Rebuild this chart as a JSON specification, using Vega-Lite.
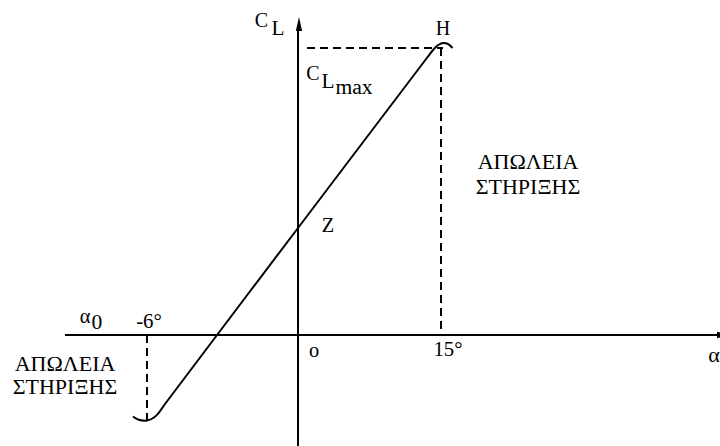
{
  "$schema": "https://vega.github.io/schema/vega-lite/v6.json",
  "autosize": "none",
  "padding": 0,
  "width": 720,
  "height": 446,
  "background": "white",
  "config": {"view": {"stroke": null}},
  "datasets": {
    "curve": [
      {"order": 1, "a": -16.5, "c": -8.15},
      {"order": 2, "a": -16.0, "c": -8.45},
      {"order": 3, "a": -15.1, "c": -8.55},
      {"order": 4, "a": -14.4, "c": -8.25},
      {"order": 5, "a": -13.9, "c": -7.75},
      {"order": 6, "a": -13.3, "c": -6.9},
      {"order": 7, "a": 0, "c": 10.7},
      {"order": 8, "a": 13.0, "c": 27.85},
      {"order": 9, "a": 13.5, "c": 28.5},
      {"order": 10, "a": 13.95, "c": 28.95},
      {"order": 11, "a": 14.5, "c": 29.2},
      {"order": 12, "a": 15.0, "c": 29.1},
      {"order": 13, "a": 15.45, "c": 28.7}
    ],
    "axes": [
      {"name": "CL axis", "a": 0, "c": -11.2, "a2": 0, "c2": 30.5},
      {"name": "alpha axis", "a": -23.3, "c": 0, "a2": 42.2, "c2": 0}
    ],
    "dashes": [
      {"name": "CLmax level", "a": 0.9, "c": 28.7, "a2": 14.5, "c2": 28.7},
      {"name": "15 deg", "a": 14.3, "c": 28.7, "a2": 14.3, "c2": 0},
      {"name": "-6 deg", "a": -15.1, "c": 0, "a2": -15.1, "c2": -8.5}
    ],
    "arrowUp": [{"a": 0.1, "c": 31.1}],
    "arrowRight": [{"a": 42.6, "c": 0}],
    "labels": [
      {"text": "C", "tier": "big", "a": -3.65, "c": 31.4},
      {"text": "L", "tier": "sub", "a": -2.0, "c": 30.6},
      {"text": "H", "tier": "big", "a": 14.5, "c": 30.6},
      {"text": "C", "tier": "big", "a": 1.5, "c": 26.15},
      {"text": "L", "tier": "sub", "a": 3.0, "c": 25.35},
      {"text": "max", "tier": "tiny", "a": 5.6, "c": 24.75},
      {"text": "Z", "tier": "large", "a": 3.0, "c": 10.9},
      {"text": "-6°", "tier": "mid", "a": -14.9, "c": 1.3},
      {"text": "α", "tier": "large", "a": -21.3, "c": 1.8},
      {"text": "0", "tier": "tiny", "a": -20.1, "c": 1.2},
      {"text": "o", "tier": "large", "a": 1.6, "c": -1.55},
      {"text": "15°", "tier": "mid", "a": 15.0, "c": -1.5},
      {"text": "ΑΠΩΛΕΙΑ", "tier": "note", "a": -23.3, "c": -2.85},
      {"text": "ΣΤΗΡΙΞΗΣ", "tier": "note", "a": -23.3, "c": -5.15},
      {"text": "ΑΠΩΛΕΙΑ", "tier": "note", "a": 23.0, "c": 17.35},
      {"text": "ΣΤΗΡΙΞΗΣ", "tier": "note", "a": 23.0, "c": 14.85}
    ],
    "edgeLabels": [
      {"text": "α", "a": 41.6, "c": -2.0}
    ]
  },
  "layer": [
    {
      "data": {"name": "axes"},
      "mark": {"type": "rule", "color": "black", "strokeWidth": 2, "clip": true},
      "encoding": {
        "x": {"field": "a", "type": "quantitative", "scale": {"domain": [-29.8, 42.2], "nice": false, "zero": false}, "axis": null},
        "y": {"field": "c", "type": "quantitative", "scale": {"domain": [-11.1, 33.5], "nice": false, "zero": false}, "axis": null},
        "x2": {"field": "a2"},
        "y2": {"field": "c2"}
      }
    },
    {
      "data": {"name": "dashes"},
      "mark": {"type": "rule", "color": "black", "strokeWidth": 2, "strokeDash": [8, 5]},
      "encoding": {
        "x": {"field": "a", "type": "quantitative"},
        "y": {"field": "c", "type": "quantitative"},
        "x2": {"field": "a2"},
        "y2": {"field": "c2"}
      }
    },
    {
      "data": {"name": "curve"},
      "mark": {"type": "line", "color": "black", "strokeWidth": 2, "interpolate": "catmull-rom"},
      "encoding": {
        "x": {"field": "a", "type": "quantitative"},
        "y": {"field": "c", "type": "quantitative"},
        "order": {"field": "order"}
      }
    },
    {
      "data": {"name": "arrowUp"},
      "mark": {"type": "point", "shape": "M0,-1L0.45,1L-0.45,1Z", "filled": true, "color": "black", "opacity": 1, "size": 196},
      "encoding": {
        "x": {"field": "a", "type": "quantitative"},
        "y": {"field": "c", "type": "quantitative"}
      }
    },
    {
      "data": {"name": "arrowRight"},
      "mark": {"type": "point", "shape": "M1,0L-1,0.45L-1,-0.45Z", "filled": true, "color": "black", "opacity": 1, "size": 196, "clip": true},
      "encoding": {
        "x": {"field": "a", "type": "quantitative"},
        "y": {"field": "c", "type": "quantitative"}
      }
    },
    {
      "data": {"name": "labels"},
      "mark": {"type": "text", "font": "Liberation Serif, DejaVu Serif, serif", "color": "black", "align": "center", "baseline": "middle"},
      "encoding": {
        "x": {"field": "a", "type": "quantitative"},
        "y": {"field": "c", "type": "quantitative"},
        "text": {"field": "text"},
        "size": {"field": "tier", "type": "nominal", "scale": {"domain": ["big", "large", "mid", "sub", "tiny", "note"], "range": [20, 22, 21, 15, 12, 21]}, "legend": null}
      }
    },
    {
      "data": {"name": "edgeLabels"},
      "mark": {"type": "text", "font": "Liberation Serif, DejaVu Serif, serif", "color": "black", "align": "center", "baseline": "middle", "size": 22, "clip": true},
      "encoding": {
        "x": {"field": "a", "type": "quantitative"},
        "y": {"field": "c", "type": "quantitative"},
        "text": {"field": "text"}
      }
    }
  ]
}
